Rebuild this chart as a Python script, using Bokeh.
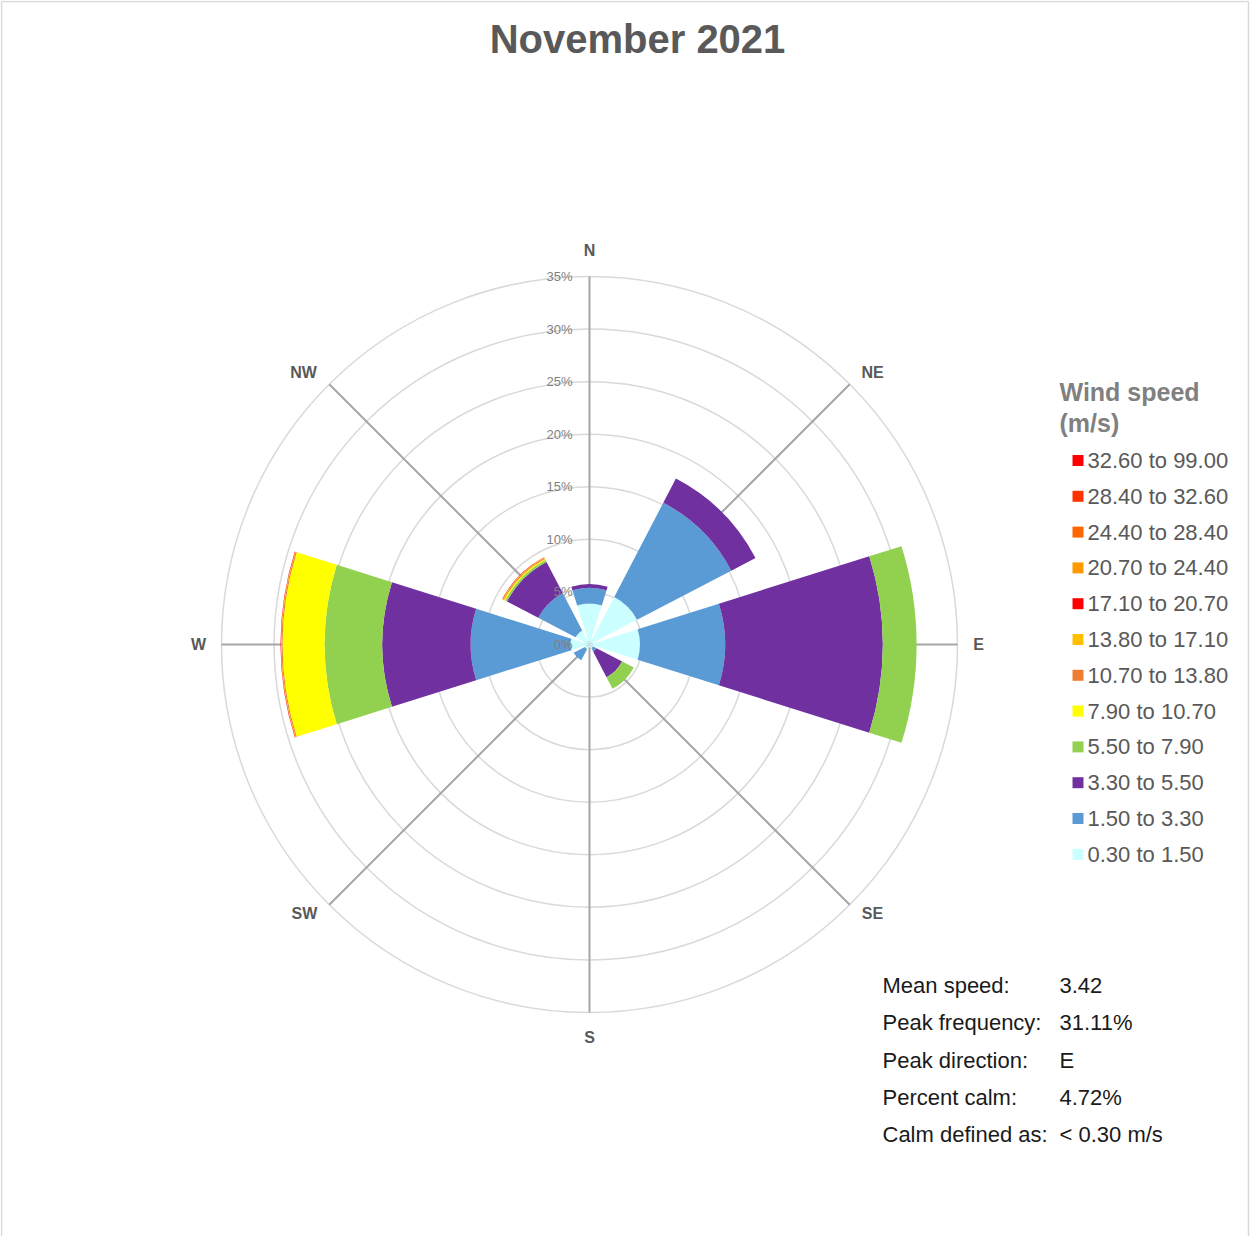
import numpy as np
from bokeh.plotting import figure
from bokeh.models import Range1d, ColumnDataSource
from bokeh.core.properties import value
from bokeh.embed import file_html
from bokeh.resources import INLINE

# ---------------- data ----------------
title_text = "November 2021"
directions = ["N", "NE", "E", "SE", "S", "SW", "W", "NW"]
direction_deg = [0, 45, 90, 135, 180, 225, 270, 315]

speed_bins = ["0.30 to 1.50", "1.50 to 3.30", "3.30 to 5.50", "5.50 to 7.90",
              "7.90 to 10.70", "10.70 to 13.80", "13.80 to 17.10", "17.10 to 20.70",
              "20.70 to 24.40", "24.40 to 28.40", "28.40 to 32.60", "32.60 to 99.00"]
bin_colors = ["#ccffff", "#5b9bd5", "#7030a0", "#92d050",
              "#ffff00", "#ed7d31", "#ffc000", "#ff0000",
              "#ff9900", "#ff6600", "#ff3300", "#ff0000"]

# frequency (%) per direction, order N, NE, E, SE, S, SW, W, NW
f_0_30 = [3.9, 5.1, 4.8, 0.4, 0.3, 0.5, 1.8, 1.5]
f_1_50 = [1.5, 10.1, 8.1, 0.35, 0.0, 1.2, 9.5, 4.0]
f_3_30 = [0.35, 2.6, 15.0, 2.75, 0.0, 0.0, 8.4, 3.35]
f_5_50 = [0.0, 0.0, 3.21, 1.25, 0.0, 0.0, 5.5, 0.2]
f_7_90 = [0.0, 0.0, 0.0, 0.0, 0.0, 0.0, 4.0, 0.12]
f_10_70 = [0.0, 0.0, 0.0, 0.0, 0.0, 0.0, 0.1, 0.1]
f_13_80 = [0.0, 0.0, 0.0, 0.0, 0.0, 0.0, 0.05, 0.05]
f_17_10 = [0.0, 0.0, 0.0, 0.0, 0.0, 0.0, 0.04, 0.04]
f_20_70 = [0.0] * 8
f_24_40 = [0.0] * 8
f_28_40 = [0.0] * 8
f_32_60 = [0.0] * 8
freqs = [f_0_30, f_1_50, f_3_30, f_5_50, f_7_90, f_10_70, f_13_80,
         f_17_10, f_20_70, f_24_40, f_28_40, f_32_60]

ring_ticks = [0, 5, 10, 15, 20, 25, 30, 35]
ring_labels = ["0%", "5%", "10%", "15%", "20%", "25%", "30%", "35%"]

stat_names = ["Mean speed:", "Peak frequency:", "Peak direction:",
              "Percent calm:", "Calm defined as:"]
stat_values = ["3.42", "31.11%", "E", "4.72%", "< 0.30 m/s"]

legend_title = ["Wind speed", "(m/s)"]

# ---------------- layout ----------------
W, H = 1250, 1236
CX, CY = 597, 652          # page position of the rose centre
PX = 368.0 / 35.0          # pixels per percent
SECTOR = 35.0              # sector width in degrees
FONT = "Liberation Sans"
# page-pixel offsets of the compass labels from the centre
lab_dx = [0, 283, 389, 283, 0, -285, -391, -286]
lab_dy = [394, 272, 0, -269, -393, -269, 0, 272]


def sx(x):
    return (x - CX) / PX


def sy(y):
    return (CY - y) / PX


p = figure(width=W, height=H, output_backend="svg", toolbar_location=None,
           x_range=Range1d(sx(8), sx(8 + W)), y_range=Range1d(sy(8 + H), sy(8)),
           x_axis_type=None, y_axis_type=None, min_border=0,
           outline_line_color=None,
           background_fill_color="white", border_fill_color="white")
p.xgrid.visible = False
p.ygrid.visible = False

# chart-area border (left, top, right)
p.segment(x0=[sx(9), sx(9), sx(1256)], y0=[sy(1260), sy(9), sy(9)],
          x1=[sx(9), sx(1256), sx(1256)], y1=[sy(9), sy(9), sy(1260)],
          line_color="#d9d9d9", line_width=1.5)

# rings
p.circle(x=[0] * (len(ring_ticks) - 1), y=[0] * (len(ring_ticks) - 1),
         radius=ring_ticks[1:], fill_color=None, line_color="#d9d9d9", line_width=1.5)

# spokes
ang = np.radians(90 - np.array(direction_deg, dtype=float))
rmax = ring_ticks[-1]
p.segment(x0=[0] * 8, y0=[0] * 8, x1=list(rmax * np.cos(ang)), y1=list(rmax * np.sin(ang)),
          line_color="#a6a6a6", line_width=2)

# stacked sectors
cum = np.zeros(len(directions))
for label, color, f in zip(speed_bins, bin_colors, freqs):
    f = np.array(f, dtype=float)
    inner = cum.copy()
    outer = cum + f
    cum = outer
    m = f > 0
    if not m.any():
        continue
    d = np.array(direction_deg, dtype=float)[m]
    src = ColumnDataSource(dict(
        x=np.zeros(m.sum()), y=np.zeros(m.sum()),
        inner=inner[m], outer=outer[m],
        start=np.radians(90 - d - SECTOR / 2), end=np.radians(90 - d + SECTOR / 2)))
    p.annular_wedge(x="x", y="y", inner_radius="inner", outer_radius="outer",
                    start_angle="start", end_angle="end", source=src,
                    fill_color=color, line_color=None)

# ring labels
p.text(x=[sx(580)] * len(ring_ticks), y=ring_ticks, text=ring_labels,
       text_font=value(FONT), text_font_size="13px", text_color="#808080",
       text_align="right", text_baseline="middle")

# direction labels
p.text(x=[dx / PX for dx in lab_dx], y=[dy / PX for dy in lab_dy], text=directions,
       text_font=value(FONT), text_font_size="16px", text_font_style="bold",
       text_color="#595959", text_align="center", text_baseline="middle")

# title
p.text(x=[sx(645)], y=[sy(46)], text=[title_text], text_font=value(FONT),
       text_font_size="40px", text_font_style="bold", text_color="#595959",
       text_align="center", text_baseline="middle")

# legend
p.text(x=[sx(1067)] * 2, y=[sy(399), sy(430)], text=legend_title, text_font=value(FONT),
       text_font_size="25px", text_font_style="bold", text_color="#808080",
       text_align="left", text_baseline="middle")
n = len(speed_bins)
leg_y = [sy(468 + i * 35.8) for i in range(n)]
p.scatter(x=[sx(1085.5)] * n, y=leg_y, marker="square", size=11,
          fill_color=bin_colors[::-1], line_color=None)
p.text(x=[sx(1095)] * n, y=leg_y, text=speed_bins[::-1], text_font=value(FONT),
       text_font_size="22px", text_color="#595959", text_align="left",
       text_baseline="middle")

# stats
st_y = [sy(993 + i * 37.3) for i in range(len(stat_names))]
p.text(x=[sx(890)] * len(stat_names), y=st_y, text=stat_names, text_font=value(FONT),
       text_font_size="22px", text_color="#1a1a1a", text_align="left",
       text_baseline="middle")
p.text(x=[sx(1067)] * len(stat_values), y=st_y, text=stat_values, text_font=value(FONT),
       text_font_size="22px", text_color="#1a1a1a", text_align="left",
       text_baseline="middle")

open("out.html", "w").write(file_html(p, INLINE))
